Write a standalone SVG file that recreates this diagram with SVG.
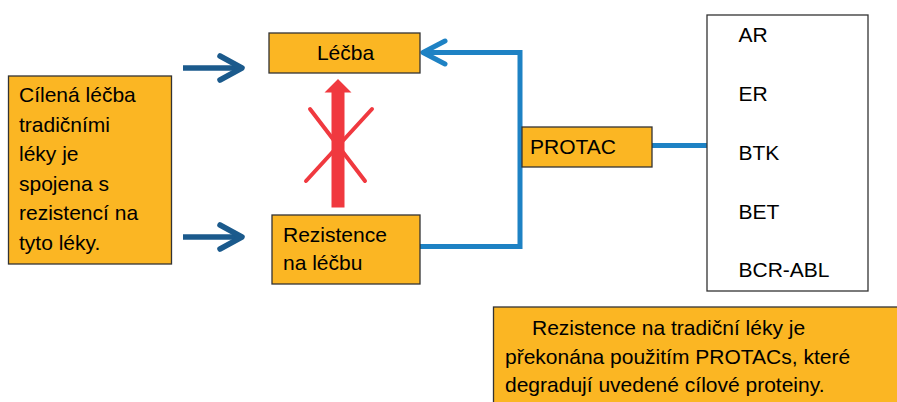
<svg xmlns="http://www.w3.org/2000/svg" width="897" height="402" viewBox="0 0 897 402">
<style>
.box{fill:#fbb623;stroke:#333;stroke-width:1.3}
.t{font-family:"Liberation Sans",Arial,sans-serif;font-size:21px;fill:#000}
.dk{stroke:#1b5a8c;stroke-width:5.5;fill:none}
.bl{stroke:#1e82c4;stroke-width:5;fill:none}
</style>
<rect width="897" height="402" fill="#fff"/>
<g id="connectors">
<line class="dk" x1="183" y1="68" x2="242" y2="68"/>
<polyline class="dk" points="220,56 242,68 220,80" stroke-linecap="round" stroke-linejoin="round"/>
<line class="dk" x1="183" y1="237" x2="242" y2="237"/>
<polyline class="dk" points="220,225 242,237 220,249" stroke-linecap="round" stroke-linejoin="round"/>
<polyline class="bl" points="420,246.5 520,246.5 520,52.5 422,52.5"/>
<polyline class="bl" points="445,41 423,52.5 445,64" stroke-linecap="round" stroke-linejoin="round"/>
<line class="bl" x1="652" y1="145.5" x2="707" y2="145.5"/>
<g id="blocked">
<polygon points="331.5,207.5 344.5,207.5 344.5,92.5 351.5,92.5 338,79 324.5,92.5 331.5,92.5" fill="#f0393f"/>
<line x1="310" y1="109" x2="365" y2="181" stroke="#f0393f" stroke-width="4" stroke-linecap="round"/>
<line x1="372" y1="109" x2="306" y2="181" stroke="#f0393f" stroke-width="4" stroke-linecap="round"/>
</g>
</g>
<g id="left">
<rect class="box" x="8.5" y="76" width="163" height="188"/>
<text class="t" x="19" y="102">Cílená léčba</text>
<text class="t" x="19" y="131.5">tradičními</text>
<text class="t" x="19" y="161">léky je</text>
<text class="t" x="19" y="190.5">spojena s</text>
<text class="t" x="19" y="220">rezistencí na</text>
<text class="t" x="19" y="249.5">tyto léky.</text>
</g>
<g id="lecba">
<rect class="box" x="269" y="33" width="151" height="40"/>
<text class="t" x="345.5" y="60" text-anchor="middle">Léčba</text>
</g>
<g id="rezistence">
<rect class="box" x="272" y="215" width="148" height="69"/>
<text class="t" x="283" y="242">Rezistence</text>
<text class="t" x="283" y="270">na léčbu</text>
</g>
<g id="protac">
<rect class="box" x="522" y="127" width="130" height="40"/>
<text class="t" x="530" y="153.5">PROTAC</text>
</g>
<g id="targets">
<rect x="707" y="15" width="161" height="276" fill="#fff" stroke="#333" stroke-width="1.3"/>
<text class="t" x="738.5" y="42">AR</text>
<text class="t" x="738.5" y="101">ER</text>
<text class="t" x="738.5" y="160">BTK</text>
<text class="t" x="738.5" y="218.5">BET</text>
<text class="t" x="738.5" y="277">BCR-ABL</text>
</g>
<g id="summary">
<rect class="box" x="493.5" y="307" width="410" height="100"/>
<text class="t" x="532" y="334.5">Rezistence na tradiční léky je</text>
<text class="t" x="505" y="363.5">překonána použitím PROTACs, které</text>
<text class="t" x="505" y="392">degradují uvedené cílové proteiny.</text>
</g>
</svg>
